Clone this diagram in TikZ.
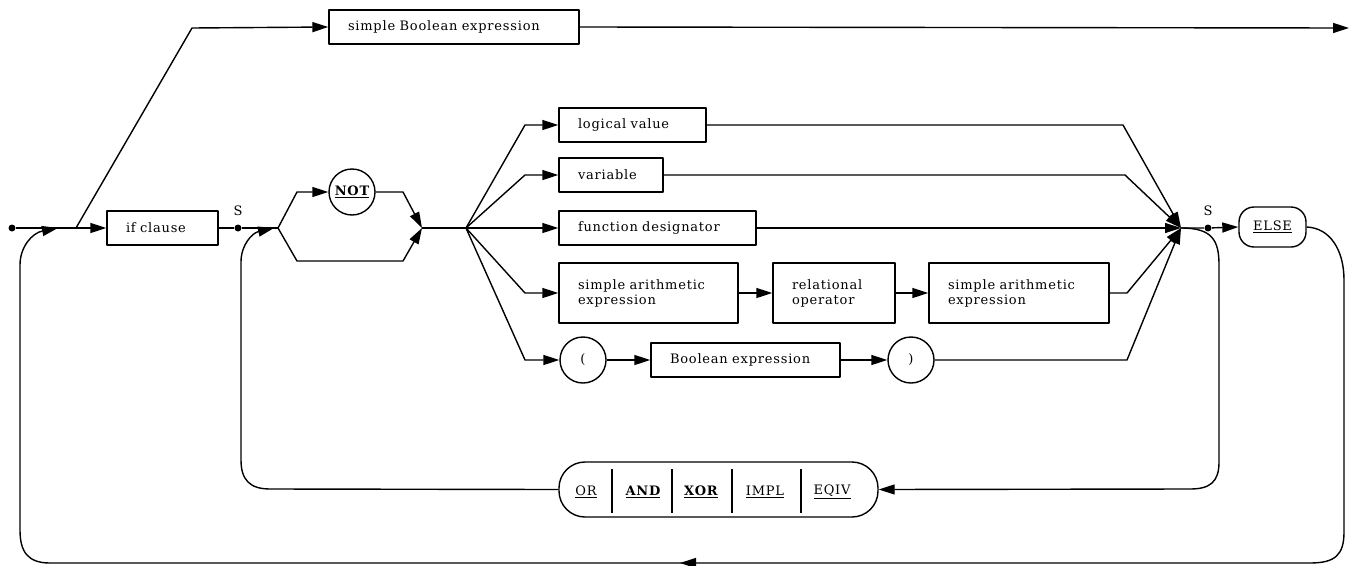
\documentclass[tikz,border=0pt]{standalone}
\usepackage{fontspec}
\setmainfont{DejaVu Serif}[LetterSpace=6]
\usetikzlibrary{arrows.meta}
\begin{document}
\begin{tikzpicture}[x=1pt,y=-1pt,line width=1.4pt,line join=round,
  >={Triangle[length=16pt,width=10pt]},
  every node/.style={font=\fontsize{13}{15}\selectfont},
  blk/.style={draw,rectangle,inner xsep=19pt,inner ysep=0pt,align=left,minimum height=34pt},
  term/.style={draw,circle,inner sep=0pt,minimum size=46pt},
  sdot/.style={circle,fill,inner sep=0pt,minimum size=7pt},
  kw/.style={inner sep=1pt}]
\useasboundingbox (0,0) rectangle (1351,565);

% boxes and terminals
\node[blk,text width=212pt] (sbe) at (454,27) {simple Boolean expression};
\node[blk,text width=73pt] (ifc) at (162.5,228) {if clause};
\node[blk,text width=109pt] (lv) at (632.5,125) {logical value};
\node[blk,text width=66pt] (var) at (611,175) {variable};
\node[blk,text width=159pt] (fd) at (657.5,228) {function designator};
\node[blk,text width=141pt,minimum height=60pt] (sae1) at (648.5,293) {simple arithmetic\\expression};
\node[blk,text width=84pt,minimum height=60pt] (rel) at (834,293) {relational\\operator};
\node[blk,text width=142pt,minimum height=60pt] (sae2) at (1019,293) {simple arithmetic\\expression};
\node[term] (lp) at (583,360) {(};
\node[blk,text width=151pt] (bex) at (745.5,360) {Boolean expression};
\node[term] (rp) at (911,360) {)};
\node[term] (not) at (352,192) {\textbf{\underline{NOT}}};
\node[draw,rounded corners=15pt,minimum width=67pt,minimum height=40pt,inner sep=0pt] (else) at (1272.5,227) {\underline{ELSE}};

% operator bar
\node[draw,rounded corners=26pt,minimum width=319pt,minimum height=55pt] (ops) at (718.5,489.5) {};
\draw (612,469) -- (612,513) (672,469) -- (672,513) (732,469) -- (732,513) (801,469) -- (801,513);
\node[kw] (kor) at (586,492) {\underline{OR}};
\node[kw] (kand) at (643,492) {\textbf{\underline{AND}}};
\node[kw] (kxor) at (701,492) {\textbf{\underline{XOR}}};
\node[kw] (kimpl) at (765,492) {\underline{IMPL}};
\node[kw] (keqiv) at (832,492) {\underline{EQIV}};

% points on the main line
\node[sdot] (start) at (12,228) {};
\node[sdot] (s1) at (238,228) {};
\node[sdot] (s2) at (1208,228) {};
\node (s1l) at (238,211) {S};
\node (s2l) at (1208,211) {S};
\coordinate (b) at (76,228);
\coordinate (f) at (278,228);
\coordinate (m) at (422,228);
\coordinate (fan) at (466,228);
\coordinate (j) at (1181,228);
\coordinate (endr) at (1349,28);

% main line
\draw[->] (start) -- (ifc.west);
\draw[->] (b) -- (192,28) -- (sbe.west);
\draw[->] (sbe.east) -- (endr);
\draw (ifc.east) -- (s1) -- (f);

% optional NOT
\draw[->] (f) -- (297,192) -- (not.west);
\draw[->] (not.east) -- (403,192) -- (m);
\draw[->] (f) -- (297,261) -- (403,261) -- (m);
\draw (m) -- (fan);

% alternatives
\draw[->] (fan) -- (525,125) -- (lv.west);
\draw[->] (fan) -- (525,175) -- (var.west);
\draw[->] (fan) -- (fd.west);
\draw[->] (fan) -- (525,293) -- (sae1.west);
\draw[->] (fan) -- (525,360) -- (lp.west);
\draw[->] (sae1.east) -- (rel.west);
\draw[->] (rel.east) -- (sae2.west);
\draw[->] (lp.east) -- (bex.west);
\draw[->] (bex.east) -- (rp.west);

% joining the alternatives
\draw[->] (lv.east) -- (1123,125) -- (j);
\draw[->] (var.east) -- (1125,175) -- (j);
\draw[->] (fd.east) -- (j);
\draw[->] (sae2.east) -- (1127,293) -- (j);
\draw[->] (rp.east) -- (1127,360) -- (j);
\draw[->] (j) -- (s2) -- (else.west);

% loop through the operators
\draw[->] (j) .. controls (1212,228) and (1219,240) .. (1219,265) -- (1219,462)
  .. controls (1219,482) and (1210,489) .. (1190,489) -- (ops.east);
\draw[->] (ops.west) -- (270,489) .. controls (250,489) and (241,480) .. (241,460)
  -- (241,262) .. controls (241,245) and (252,233) .. (274,228);

% loop after ELSE
\draw[->] (else.east) .. controls (1330,228) and (1344,250) .. (1344,280) -- (1344,532)
  .. controls (1344,555) and (1335,563) .. (1310,563) -- (680,563);
\draw[->] (682,563) -- (50,563) .. controls (28,563) and (20,552) .. (20,530)
  -- (20,265) .. controls (20,247) and (32,233) .. (58,228);
\end{tikzpicture}
\end{document}
